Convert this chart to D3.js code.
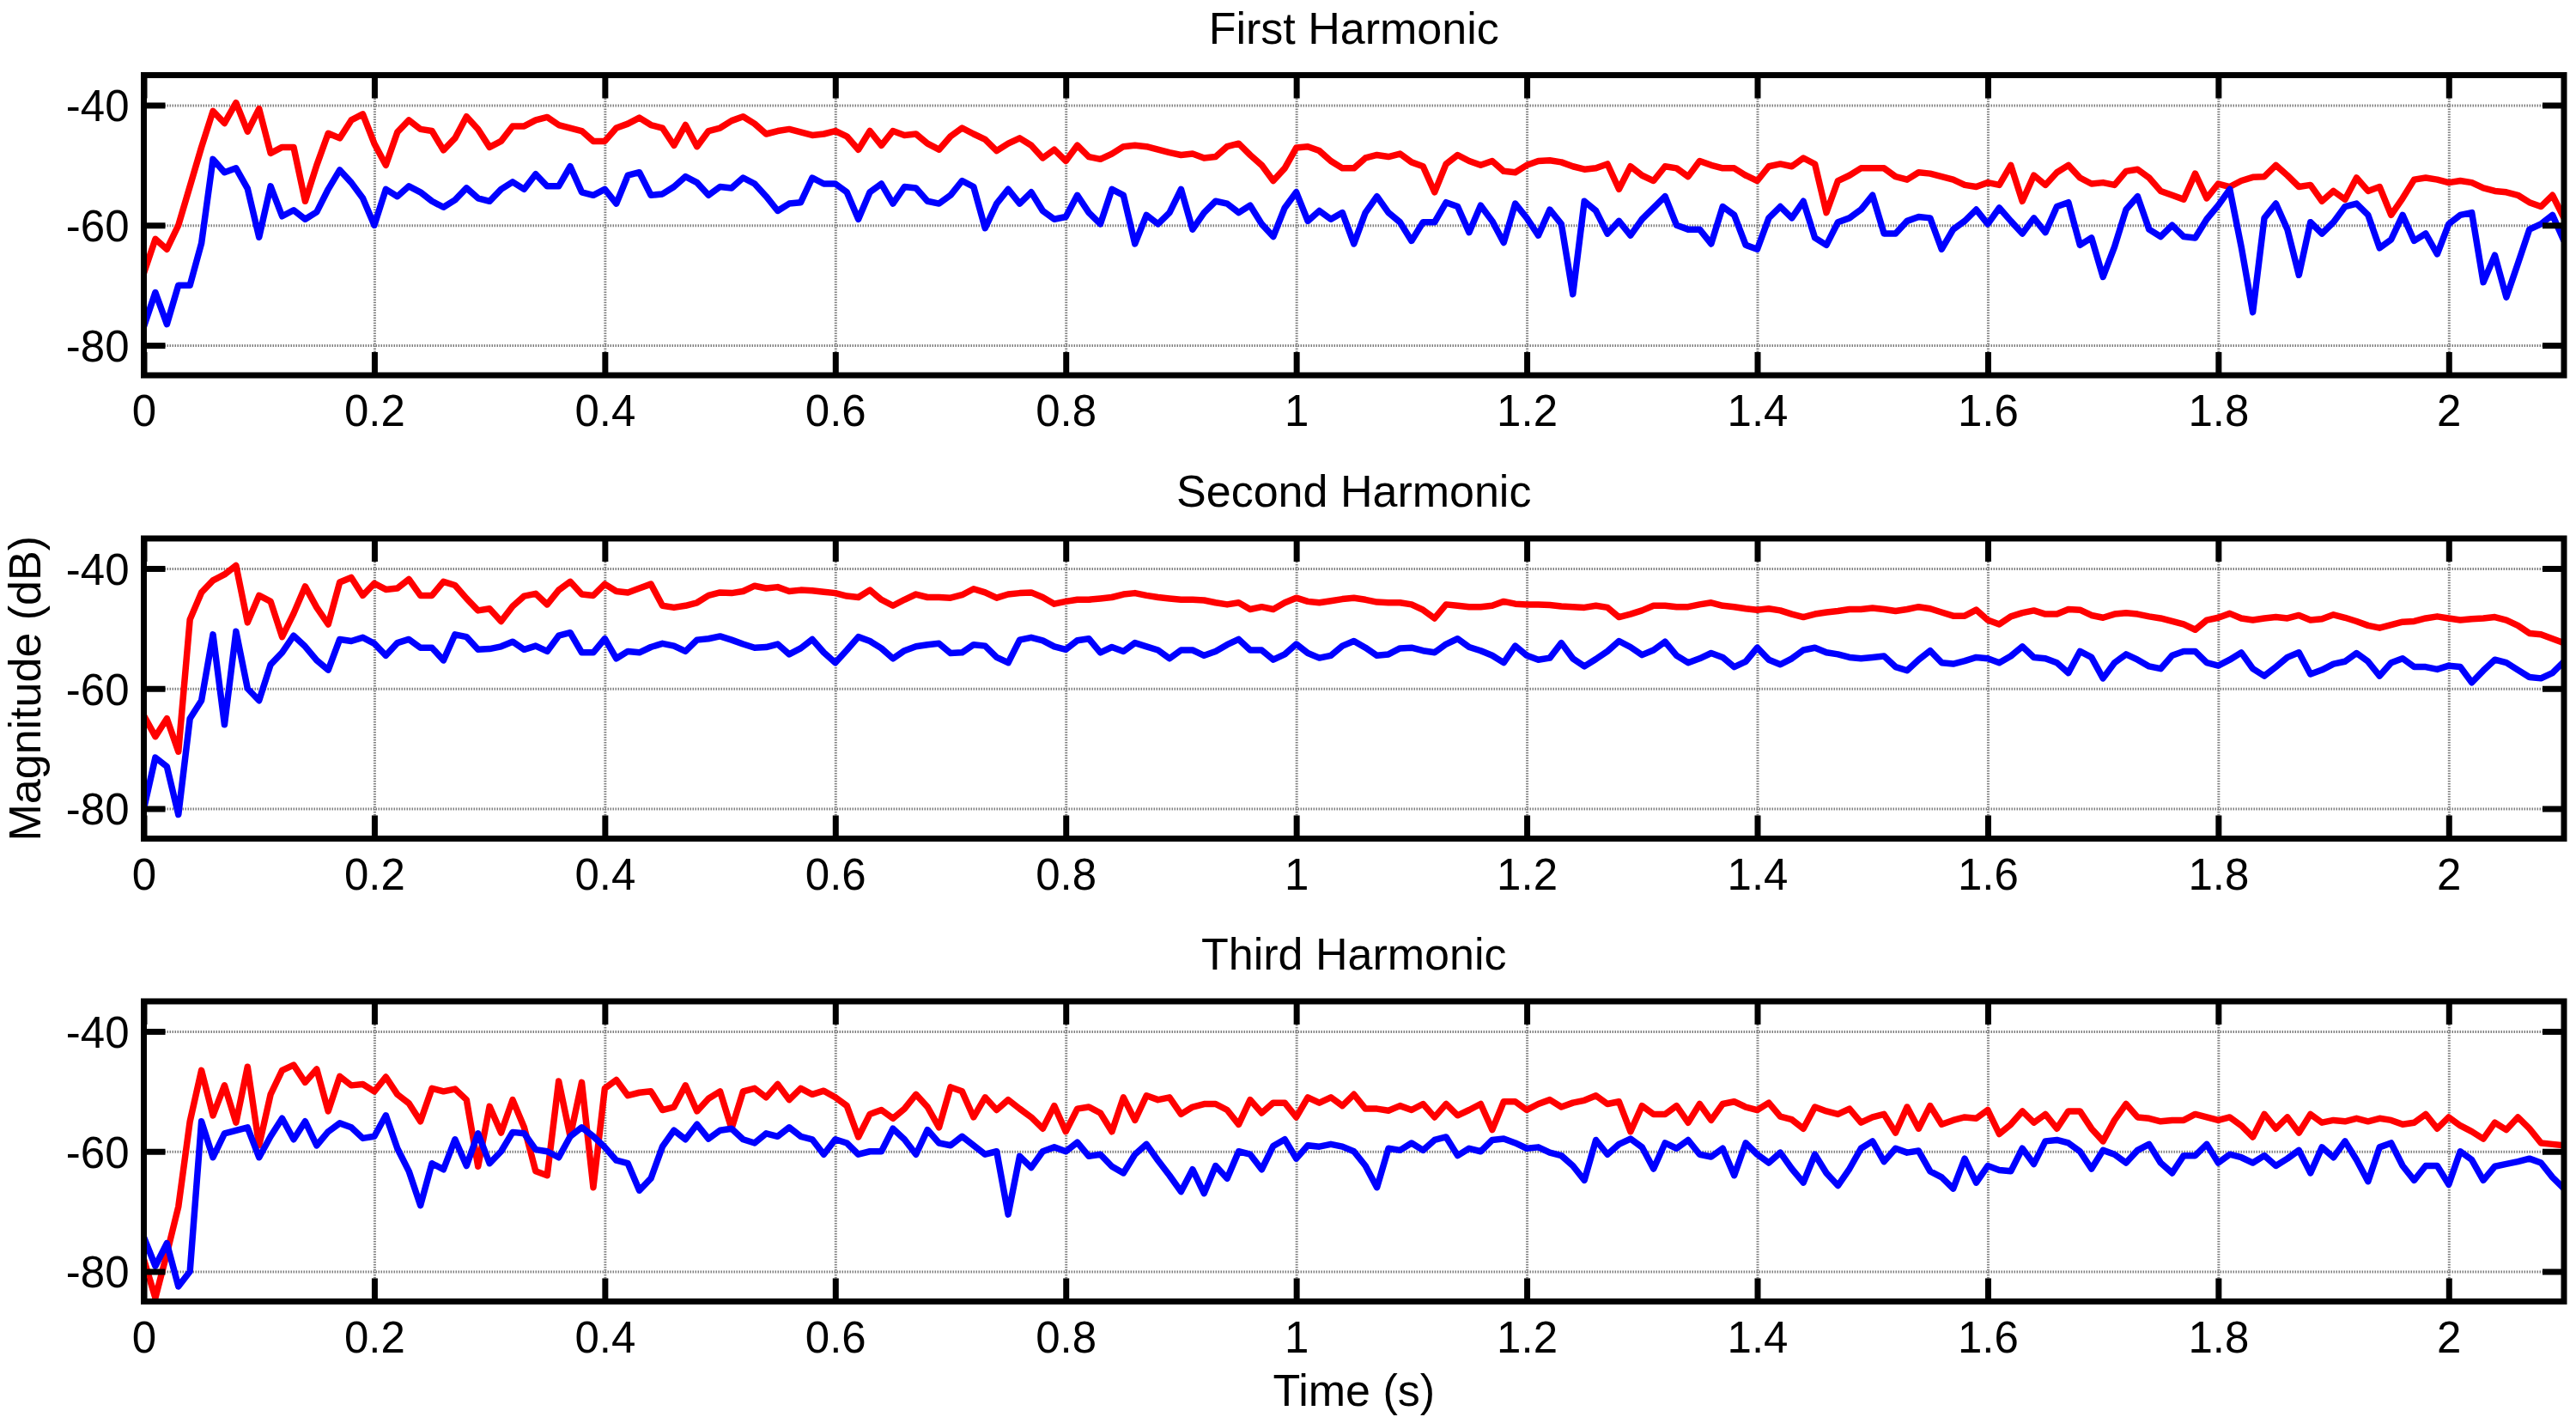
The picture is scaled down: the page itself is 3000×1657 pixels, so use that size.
<!DOCTYPE html>
<html>
<head>
<meta charset="utf-8">
<script src="https://cdn.jsdelivr.net/npm/d3@7"></script>
<style>
  body { margin: 0; background: #fff; }
  svg { display: block; font-family: "Liberation Sans", Arial, Helvetica, sans-serif; }
  .tick text { font-size: 51px; fill: #000; }
  .label { font-size: 52px; fill: #000; }
</style>
</head>
<body>
<svg width="3000" height="1657"></svg>
<script>
// **** Data (magnitude in dB, one value every 10 ms from t = 0) ****

var dt = 0.01;

var panelTitles = ['First Harmonic', 'Second Harmonic', 'Third Harmonic'];
var xTicks = [0, 0.2, 0.4, 0.6, 0.8, 1, 1.2, 1.4, 1.6, 1.8, 2];
var xTickLabels = ['0', '0.2', '0.4', '0.6', '0.8', '1', '1.2', '1.4', '1.6', '1.8', '2'];
var yTicks = [-80, -60, -40];
var yTickLabels = ['-80', '-60', '-40'];

var h1Red = [
  -68, -62.3, -64, -60, -53.5, -47, -41, -43, -39.6, -44.4,
  -40.6, -48, -47, -47, -56, -50, -44.7, -45.5, -42.5, -41.5,
  -46.4, -50, -44.5, -42.5, -44, -44.3, -47.5, -45.5, -41.9, -44,
  -47, -46, -43.5, -43.5, -42.5, -42, -43.3, -43.8, -44.3, -46,
  -46, -43.8, -43.1, -42.1, -43.3, -43.8, -46.7, -43.3, -46.9, -44.3,
  -43.8, -42.6, -41.9, -43.1, -44.8, -44.3, -44, -44.5, -45, -44.8,
  -44.3, -45.2, -47.4, -44.3, -46.7, -44.3, -45, -44.8, -46.4, -47.4,
  -45.2, -43.8, -44.8, -45.7, -47.6, -46.4, -45.5, -46.7, -48.8, -47.4,
  -49.3, -46.7, -48.6, -49, -48.1, -46.9, -46.7, -46.9, -47.4, -47.9,
  -48.3, -48.1, -48.8, -48.6, -46.9, -46.4, -48.3, -50, -52.6, -50.5,
  -47.1, -46.9, -47.6, -49.3, -50.5, -50.5, -48.8, -48.3, -48.6, -48.1,
  -49.5, -50.2, -54.5, -49.8, -48.3, -49.3, -50, -49.3, -51, -51.2,
  -50, -49.3, -49.2, -49.5, -50.2, -50.7, -50.5, -49.8, -54, -50.2,
  -51.7, -52.6, -50.2, -50.5, -51.9, -49.3, -50, -50.5, -50.5, -51.7,
  -52.6, -50.2, -49.8, -50.2, -48.8, -49.8, -57.9, -52.6, -51.7, -50.5,
  -50.5, -50.5, -51.9, -52.4, -51.2, -51.4, -51.9, -52.4, -53.3, -53.6,
  -52.9, -53.3, -50, -56, -51.7, -53.3, -51.2, -50, -52.1, -53.1,
  -52.9, -53.3, -51, -50.7, -52.1, -54.3, -55, -55.7, -51.4, -55.5,
  -53.1, -53.6, -52.6, -52, -51.9, -50, -51.7, -53.6, -53.3, -56,
  -54.3, -55.7, -52.1, -54.3, -53.6, -58.3, -55.5, -52.4, -52.1, -52.4,
  -52.9, -52.6, -52.9, -53.8, -54.3, -54.5, -55, -56.2, -56.9, -55, -58.8
];

var h1Blue = [
  -76.9, -71.2, -76.5, -70, -70, -63, -49, -51.2, -50.5, -53.9,
  -62, -53.5, -58.5, -57.5, -59, -57.8, -54, -50.8, -52.9, -55.5,
  -60, -54, -55.2, -53.5, -54.5, -56, -57, -55.8, -53.8, -55.5,
  -56, -54, -52.8, -54, -51.5, -53.5, -53.5, -50.2, -54.5, -55,
  -54, -56.4, -51.7, -51.2, -55, -54.8, -53.6, -51.9, -52.9, -55,
  -53.6, -53.8, -52.1, -53.1, -55.2, -57.6, -56.4, -56.2, -52.1, -53.1,
  -53.1, -54.5, -59, -54.5, -53.1, -56.4, -53.6, -53.8, -56, -56.4,
  -55, -52.6, -53.6, -60.5, -56.4, -54, -56.4, -54.5, -57.6, -59,
  -58.6, -55, -57.9, -59.8, -54, -55, -63.1, -58.3, -59.8, -57.9,
  -54, -60.7, -57.9, -56, -56.4, -57.9, -56.7, -59.8, -61.9, -57.1,
  -54.5, -59.3, -57.6, -59, -57.9, -63.1, -57.9, -55.2, -57.9, -59.5,
  -62.6, -59.5, -59.5, -56.2, -56.9, -61.2, -56.7, -59.3, -62.9, -56.4,
  -58.8, -61.7, -57.4, -59.8, -71.5, -56, -57.6, -61.4, -59.3, -61.7,
  -59, -57.1, -55.2, -60, -60.7, -60.7, -63.1, -56.9, -58.3, -63.3,
  -64, -58.8, -56.9, -58.8, -56, -62.1, -63.3, -59.5, -58.8, -57.4,
  -55, -61.4, -61.4, -59.3, -58.6, -58.8, -64, -60.7, -59.3, -57.4,
  -59.8, -57.1, -59.3, -61.4, -58.8, -61.2, -56.9, -56.2, -63.3, -62.1,
  -68.6, -63.6, -57.4, -55.2, -60.7, -61.9, -60, -61.9, -62.1, -59,
  -56.7, -54, -63.6, -74.5, -58.8, -56.4, -60.7, -68.3, -59.5, -61.4,
  -59.5, -56.9, -56.4, -58.3, -63.8, -62.4, -58.3, -62.6, -61.4, -64.8,
  -59.8, -58.3, -57.9, -69.5, -65, -72, -66.4, -60.7, -59.8, -58.3, -62.6
];

var h2Red = [
  -64.5, -68, -65, -70.5, -48.5, -44, -42, -41, -39.5, -49,
  -44.5, -45.5, -51.4, -47.5, -43, -46.5, -49.3, -42.3, -41.5, -44.5,
  -42.5, -43.5, -43.3, -41.8, -44.5, -44.5, -42.2, -42.8, -45, -47,
  -46.7, -48.8, -46.3, -44.6, -44.2, -46, -43.6, -42.2, -44.3, -44.5,
  -42.6, -43.8, -44, -43.3, -42.6, -46.2, -46.5, -46.2, -45.7, -44.5,
  -44, -44.1, -43.8, -42.9, -43.3, -43.1, -43.8, -43.6, -43.7, -43.9,
  -44.1, -44.6, -44.8, -43.6, -45.2, -46.2, -45.2, -44.3, -44.8, -44.8,
  -44.9, -44.4, -43.4, -44, -44.9, -44.3, -44.1, -44, -44.8, -45.9,
  -45.5, -45.2, -45.2, -45, -44.8, -44.3, -44.1, -44.5, -44.8, -45,
  -45.2, -45.2, -45.3, -45.7, -46, -45.7, -46.8, -46.4, -46.8, -45.7,
  -44.9, -45.5, -45.7, -45.4, -45.1, -44.9, -45.2, -45.6, -45.7, -45.7,
  -46, -46.9, -48.3, -46, -46.2, -46.4, -46.4, -46.2, -45.5, -45.9,
  -46, -46, -46.1, -46.3, -46.4, -46.5, -46.2, -46.5, -48.1, -47.6,
  -47, -46.2, -46.2, -46.4, -46.4, -46, -45.7, -46.2, -46.4, -46.7,
  -46.9, -46.7, -47, -47.6, -48.1, -47.6, -47.3, -47.1, -46.8, -46.8,
  -46.6, -46.8, -47.1, -46.8, -46.4, -46.7, -47.3, -47.9, -47.9, -46.9,
  -48.6, -49.3, -48, -47.4, -47, -47.6, -47.6, -46.8, -46.9, -47.8,
  -48.2, -47.6, -47.4, -47.6, -48, -48.3, -48.8, -49.3, -50.2, -48.6,
  -48.2, -47.5, -48.3, -48.6, -48.3, -48.1, -48.3, -47.8, -48.6, -48.4,
  -47.7, -48.2, -48.8, -49.5, -49.9, -49.4, -48.9, -48.8, -48.3, -48,
  -48.3, -48.6, -48.4, -48.3, -48.1, -48.6, -49.5, -50.8, -51, -51.7, -52.4
];

var h2Blue = [
  -80, -71.5, -73, -81, -65, -62, -51, -66, -50.5, -60,
  -62, -56, -54, -51.2, -53, -55.3, -56.9, -51.8, -52.1, -51.5,
  -52.5, -54.5, -52.4, -51.8, -53.2, -53.2, -55.3, -51, -51.4, -53.5,
  -53.4, -53, -52.2, -53.5, -52.9, -53.8, -51.2, -50.7, -54, -54,
  -51.7, -55, -53.8, -54, -53.1, -52.5, -52.9, -53.8, -51.9, -51.7,
  -51.3, -51.9, -52.6, -53.2, -53.1, -52.6, -54.3, -53.3, -51.8, -54,
  -55.7, -53.6, -51.4, -52.1, -53.3, -55, -53.7, -53, -52.7, -52.5,
  -54.1, -54, -52.7, -52.9, -54.8, -55.7, -51.9, -51.5, -52, -53,
  -53.5, -52, -51.7, -54, -53.1, -53.8, -52.4, -53, -53.6, -55,
  -53.6, -53.6, -54.5, -53.8, -52.7, -51.8, -53.6, -53.6, -55.2, -54.3,
  -52.6, -54.1, -54.9, -54.5, -52.9, -52.1, -53.2, -54.5, -54.3, -53.3,
  -53.2, -53.7, -54, -52.6, -51.7, -53.1, -53.7, -54.5, -55.7, -52.9,
  -54.5, -55.2, -54.9, -52.4, -55, -56.3, -55.1, -53.8, -52.1, -53.1,
  -54.4, -53.6, -52.2, -54.5, -55.7, -55, -54.1, -54.8, -56.4, -55.5,
  -53.2, -55.2, -56, -55, -53.6, -53.2, -54, -54.3, -54.8, -55,
  -54.8, -54.6, -56.4, -57, -55.2, -53.7, -55.7, -55.9, -55.4, -54.8,
  -55, -55.7, -54.6, -53, -54.8, -55, -55.7, -57.4, -53.8, -54.8,
  -58.3, -55.7, -54.3, -55.2, -56.3, -56.7, -54.5, -53.8, -53.8, -55.7,
  -56.2, -55.2, -54, -56.7, -57.9, -56.4, -54.8, -54, -57.6, -56.9,
  -55.9, -55.5, -54.1, -55.5, -57.9, -55.7, -55, -56.4, -56.4, -56.8,
  -56.2, -56.4, -59, -57, -55.2, -55.7, -56.9, -58.1, -58.3, -57.4, -55.5
];

var h3Red = [
  -78, -84.4, -77, -69.2, -55, -46.5, -54, -49, -55.2, -45.9,
  -59, -50.5, -46.5, -45.6, -48.5, -46.3, -53.3, -47.5, -49, -48.8,
  -50, -47.6, -50.5, -52, -55, -49.5, -50, -49.6, -51.4, -62.5,
  -52.5, -56.9, -51.4, -56, -63.3, -64, -48.3, -57.5, -48.5, -66,
  -49.5, -48.1, -50.7, -50.2, -50, -53.1, -52.6, -49, -53.3, -51.2,
  -50, -56.2, -50, -49.5, -51, -48.8, -51.4, -49.5, -50.5, -49.9,
  -51, -52.4, -57.6, -53.8, -53.1, -54.5, -52.9, -50.5, -52.6, -56,
  -49.3, -50, -54.3, -51, -53.1, -51.4, -52.9, -54.3, -56.2, -52.4,
  -56.7, -52.9, -52.6, -53.6, -56.7, -51, -54.8, -50.7, -51.4, -51,
  -53.8, -52.6, -52.1, -52.1, -53.1, -55.5, -51.4, -53.6, -51.9, -51.9,
  -54.3, -51, -51.9, -51, -52.4, -50.5, -52.9, -52.9, -53.2, -52.4,
  -53.1, -52.1, -54.3, -52.1, -54, -53.1, -52.1, -56.4, -51.7, -51.7,
  -53.1, -52.1, -51.4, -52.6, -51.9, -51.5, -50.7, -52.1, -51.7, -56.7,
  -52.4, -53.8, -53.8, -52.4, -55.2, -52.1, -54.8, -52.1, -51.7, -52.6,
  -53.1, -51.9, -54.2, -54.7, -56.2, -52.6, -53.3, -53.8, -52.9, -55.2,
  -54.3, -53.8, -56.9, -52.6, -56.2, -52.4, -55.5, -54.8, -54.3, -54.5,
  -53.1, -57.1, -55.5, -53.3, -55.2, -53.8, -56.2, -53.3, -53.3, -56.2,
  -58.3, -54.8, -52.1, -54.3, -54.5, -55, -54.8, -54.8, -53.8, -54.3,
  -54.8, -54.3, -55.7, -57.6, -53.8, -56.2, -54.3, -56.9, -53.8, -55.2,
  -54.8, -55, -54.5, -55, -54.5, -54.8, -55.5, -55.2, -53.8, -56.2,
  -54.3, -55.7, -56.7, -57.9, -55.2, -56.4, -54.3, -56.2, -58.6, -58.8, -59
];

var h3Blue = [
  -74.3, -79.1, -75.3, -82.5, -80, -55, -61, -57, -56.5, -56,
  -61, -57.5, -54.5, -58, -55, -59, -56.7, -55.3, -56, -57.8,
  -57.5, -54, -59.5, -63.3, -69, -62, -63, -58, -62.4, -57,
  -62, -60, -56.8, -57, -59.7, -60, -61, -57.5, -56, -57.5,
  -59.3, -61.5, -62, -66.5, -64.5, -59.2, -56.5, -58, -55.5, -57.9,
  -56.5, -56.2, -58, -58.6, -57, -57.5, -56, -57.5, -58, -60.5,
  -58, -58.6, -60.5, -60, -60, -56.2, -58, -60.5, -56.4, -58.6,
  -59, -57.5, -59, -60.5, -60, -70.5, -60.8, -62.7, -60, -59.3,
  -60, -58.5, -60.8, -60.5, -62.5, -63.6, -60.5, -58.8, -61.5, -64,
  -66.7, -63, -67, -62.4, -64.5, -60, -60.5, -63, -59.1, -58,
  -61.2, -59, -59.2, -58.8, -59.2, -60, -62.4, -66, -59.5, -59.8,
  -58.6, -59.8, -58.1, -57.6, -60.7, -59.5, -60, -58.1, -57.9, -58.6,
  -59.5, -59.3, -60.2, -60.7, -62.4, -64.8, -58.1, -60.5, -58.8, -57.9,
  -59.3, -62.9, -58.6, -59.5, -58.1, -60.5, -60.9, -59.5, -64, -58.6,
  -60.5, -61.9, -60.2, -62.9, -65.2, -60.5, -63.6, -65.7, -62.9, -59.5,
  -58.3, -61.7, -59.5, -60.2, -59.9, -63.3, -64.3, -66.2, -61.2, -65.2,
  -62.4, -63.1, -63.3, -59.5, -62.1, -58.3, -58.1, -58.6, -60, -62.9,
  -59.8, -60.5, -61.9, -59.8, -58.8, -61.9, -63.6, -60.7, -60.7, -58.8,
  -61.9, -60.5, -61, -61.9, -60.7, -62.4, -61.2, -59.8, -63.6, -59.3,
  -61, -58.3, -61.4, -65, -59.3, -58.6, -62.4, -64.8, -62.4, -62.4,
  -65.5, -60, -61.4, -64.8, -62.5, -62.1, -61.7, -61.2, -61.9, -64.3, -66.2
];

var panelRed = [h1Red, h2Red, h3Red];
var panelBlue = [h1Blue, h2Blue, h3Blue];

// **** Layout ****

var plotLeft = 167.5, plotRight = 2986;
var panelTops = [87.5, 627, 1166];
var panelHeight = 349.5;

var svg = d3.select('svg');

var xScale = d3.scaleLinear().domain([0, 2.1]).range([plotLeft, plotRight]);

svg.append('defs').append('clipPath')
    .attr('id', 'plotClip')
    .append('rect')
    .attr('x', plotLeft).attr('y', 0)
    .attr('width', plotRight - plotLeft).attr('height', panelHeight);

panelTitles.forEach(function (title, i) {
    var top = panelTops[i];
    var g = svg.append('g').attr('transform', 'translate(0,' + top + ')');

    var yScale = d3.scaleLinear().domain([-85, -35]).range([panelHeight, 0]);

    // dotted grid
    g.append('g').attr('class', 'grid')
        .attr('transform', 'translate(0,' + panelHeight + ')')
        .call(d3.axisBottom(xScale).tickValues(xTicks).tickSize(-panelHeight).tickFormat(''))
        .call(function (s) { s.select('.domain').remove(); });
    g.append('g').attr('class', 'grid')
        .attr('transform', 'translate(' + plotLeft + ',0)')
        .call(d3.axisLeft(yScale).tickValues(yTicks).tickSize(-(plotRight - plotLeft)).tickFormat(''))
        .call(function (s) { s.select('.domain').remove(); });
    g.selectAll('.grid line')
        .attr('stroke', '#808080')
        .attr('stroke-width', 3)
        .attr('stroke-dasharray', '1.5,1.5');

    var line = d3.line()
        .x(function (d, k) { return xScale(k * dt); })
        .y(function (d) { return yScale(d); });

    var lines = g.append('g').attr('clip-path', 'url(#plotClip)');
    lines.append('path')
        .datum(panelRed[i])
        .attr('d', line)
        .attr('fill', 'none')
        .attr('stroke', '#ff0000')
        .attr('stroke-width', 7.5)
        .attr('stroke-linejoin', 'round');
    lines.append('path')
        .datum(panelBlue[i])
        .attr('d', line)
        .attr('fill', 'none')
        .attr('stroke', '#0000ff')
        .attr('stroke-width', 7.5)
        .attr('stroke-linejoin', 'round');

    // axes with inward ticks on all four sides
    var bottom = g.append('g')
        .attr('transform', 'translate(0,' + panelHeight + ')')
        .call(d3.axisBottom(xScale).tickValues(xTicks).tickSizeInner(-27).tickSizeOuter(0)
            .tickPadding(23).tickFormat(function (d, k) { return xTickLabels[k]; }));
    var top_ = g.append('g')
        .call(d3.axisTop(xScale).tickValues(xTicks).tickSizeInner(-27).tickSizeOuter(0).tickFormat(''));
    var left = g.append('g')
        .attr('transform', 'translate(' + plotLeft + ',0)')
        .call(d3.axisLeft(yScale).tickValues(yTicks).tickSizeInner(-25).tickSizeOuter(0)
            .tickPadding(17).tickFormat(function (d, k) { return yTickLabels[k]; }));
    var right = g.append('g')
        .attr('transform', 'translate(' + plotRight + ',0)')
        .call(d3.axisRight(yScale).tickValues(yTicks).tickSizeInner(-25).tickSizeOuter(0).tickFormat(''));

    [bottom, top_, left, right].forEach(function (a) {
        a.select('.domain').remove();
        a.selectAll('.tick line').attr('stroke', '#000').attr('stroke-width', 7);
        a.selectAll('.tick text').attr('font-family', null).attr('font-size', null);
    });
    left.selectAll('.tick text').attr('dy', '0.36em');

    // box
    g.append('rect')
        .attr('x', plotLeft).attr('y', 0)
        .attr('width', plotRight - plotLeft).attr('height', panelHeight)
        .attr('fill', 'none')
        .attr('stroke', '#000')
        .attr('stroke-width', 7);

    svg.append('text')
        .attr('class', 'label')
        .attr('x', (plotLeft + plotRight) / 2)
        .attr('y', top - 37)
        .attr('text-anchor', 'middle')
        .text(title);
});

svg.append('text')
    .attr('class', 'label')
    .attr('transform', 'translate(47,' + (panelTops[1] + panelHeight / 2) + ') rotate(-90)')
    .attr('text-anchor', 'middle')
    .text('Magnitude (dB)');

svg.append('text')
    .attr('class', 'label')
    .attr('x', (plotLeft + plotRight) / 2)
    .attr('y', 1637)
    .attr('text-anchor', 'middle')
    .text('Time (s)');
</script>
</body>
</html>
